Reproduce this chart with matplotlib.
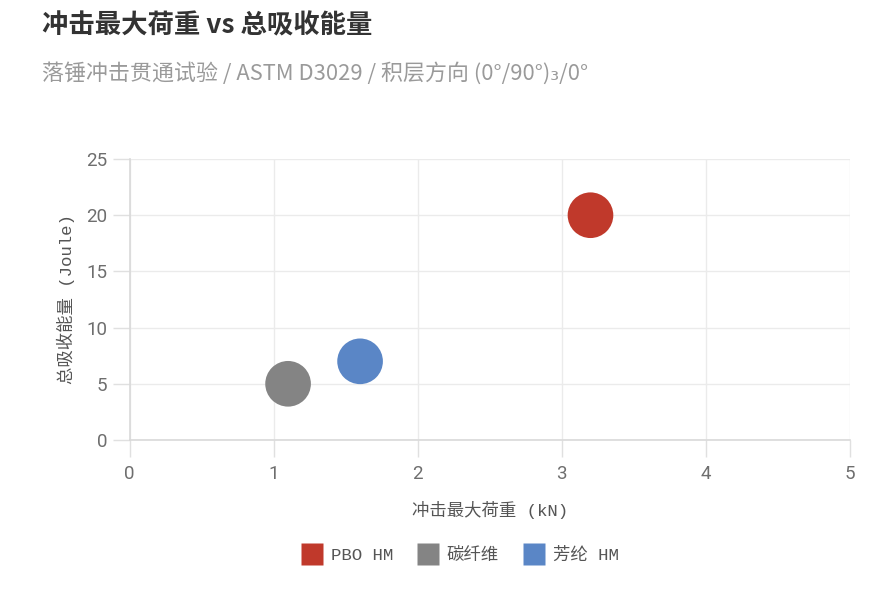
import matplotlib
matplotlib.use("Agg")
import matplotlib.pyplot as plt

# data
series = ["PBO HM", "碳纤维", "芳纶 HM"]
peak_load = [3.2, 1.1, 1.6]       # kN
energy = [20, 5, 7]               # Joule
colors = ["#C0392B", "#848484", "#5A86C6"]

x_ticks = [0, 1, 2, 3, 4, 5]
y_ticks = [0, 5, 10, 15, 20, 25]

cjk = ["Noto Sans CJK SC", "DejaVu Sans"]
mono = ["Liberation Mono", "Noto Sans CJK SC"]
tick_font = ["Liberation Sans Narrow", "Roboto", "DejaVu Sans"]

fig = plt.figure(figsize=(8.9, 5.89), dpi=100)
ax = fig.add_axes([0.1457, 0.253, 0.809, 0.477])

for x, y, c, name in zip(peak_load, energy, colors, series):
    ax.scatter(x, y, s=1080, color=c, edgecolors="none", zorder=3, label=name)

ax.set_xlim(0, 5)
ax.set_ylim(0, 25)
ax.set_xticks(x_ticks)
ax.set_yticks(y_ticks)
ax.grid(True, color="#EBEBEB", linewidth=1)
ax.set_axisbelow(True)

for s in ["top", "right"]:
    ax.spines[s].set_visible(False)
for s in ["left", "bottom"]:
    ax.spines[s].set_color("#D9D9D9")
    ax.spines[s].set_linewidth(1.2)

ax.tick_params(axis="both", colors="#E0E0E0", length=12, width=1,
               labelcolor="#6E6E6E", labelsize=13.5)
ax.tick_params(axis="x", pad=6)
ax.tick_params(axis="y", pad=4)
for lab in ax.get_xticklabels() + ax.get_yticklabels():
    lab.set_family(tick_font)

ax.set_xlabel("冲击最大荷重 (kN)", family=mono, fontsize=12.5, color="#555555", labelpad=13)
ax.set_ylabel("总吸收能量 (Joule)", family=mono, fontsize=12.5, color="#555555", labelpad=8)

fig.text(0.047, 0.956, "冲击最大荷重 vs 总吸收能量", family=cjk, fontsize=19,
         fontweight="bold", color="#333333", va="center", ha="left")
fig.text(0.047, 0.876, "落锤冲击贯通试验 / ASTM D3029 / 积层方向 (0°/90°)₃/0°",
         family=cjk, fontsize=15.8, color="#9A9A9A", va="center", ha="left")

handles, labels = ax.get_legend_handles_labels()
proxies = [plt.Line2D([], [], marker="s", linestyle="none", markersize=16,
                      markerfacecolor=c, markeredgecolor="none") for c in colors]
fig.legend(proxies, labels, loc="center", bbox_to_anchor=(460 / 890, 1 - 555 / 589),
           ncol=3, frameon=False, prop={"family": mono, "size": 12.5},
           labelcolor="#555555", handletextpad=0.5, columnspacing=1.4, handlelength=1.2)

fig.savefig("out.png", dpi=100)
